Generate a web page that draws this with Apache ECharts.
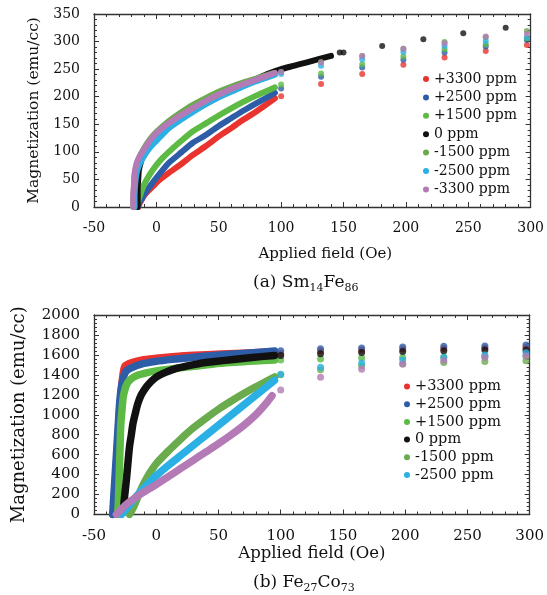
<!DOCTYPE html>
<html><head><meta charset="utf-8">
<script src="https://cdn.jsdelivr.net/npm/echarts@6/dist/echarts.min.js"></script>
<style>html,body{margin:0;padding:0;background:#fff}#c{width:547px;height:595px}</style>
</head><body><div id="c"></div>
<script>
// ---- names & colours
const seriesNames = ['+3300 ppm','+2500 ppm','+1500 ppm','0 ppm','-1500 ppm','-2500 ppm','-3300 ppm'];
const seriesColors = ['#e8332e','#2e5da8','#5cba45','#111111','#6aab4e','#2ab0e4','#b47ab6'];
const xTicks = [-50,0,50,100,150,200,250,300];

// ---- (a) Sm14Fe86 : dense sweep [field, magnetization]
const smP3300 = [[-14.5,0],[-13.5,6],[-12,12],[-10,20],[-7,28],[-3,37],[2,48],[10,62],[20,78],[29,94],[40,111],[50,128],[60,143],[68,156],[78,170],[87,184],[95,197]];
const smP2500 = [[-15,0],[-14,7],[-12,14],[-10,22],[-5,38],[0,53],[5,67],[10,80],[20,99],[29,116],[40,131],[50,147],[60,161],[70,175],[80,188],[88,198],[95,207]];
const smP1500 = [[-16,0],[-15,8],[-13.5,18],[-12,28],[-10,40],[-5,60],[0,76],[5,89],[10,100],[20,120],[29,137],[40,152],[50,166],[60,179],[70,191],[80,202],[88,210],[95,217]];
const sm0 = [[-15,0],[-15,12],[-15,34],[-14.5,52],[-14,67],[-12,85],[-10,97],[-5,113],[0,126],[10,146],[20,161],[30,175],[40,188],[50,200],[60,211],[70,222],[80,232],[90,242],[100,250],[110,256],[120,262],[130,268],[140,274]];
const smM1500 = [[-18.5,0],[-18.5,15],[-18,35],[-17.5,55],[-16,75],[-14,89],[-10,106],[-5,123],[0,136],[10,156],[20,172],[29,185],[40,198],[50,209],[60,218],[70,226],[80,233],[90,240],[95,243]];
const smM2500 = [[-17.5,0],[-17.5,20],[-17,40],[-16,60],[-14,75],[-12,84],[-10,92],[-5,108],[0,120],[10,143],[20,159],[29,172],[40,187],[50,199],[60,209],[70,219],[80,228],[90,236],[95,240]];
const smM3300 = [[-18.5,0],[-18.5,20],[-18,40],[-17.5,60],[-16,78],[-14,89],[-10,104],[-5,121],[0,134],[10,152],[20,167],[29,179],[40,193],[50,204],[60,214],[70,223],[80,231],[90,239],[95,243]];
// sparse points
const smSparseField = [100,132,165,198,231,264,297];
const smSpP3300 = [201,223,241,258,271,283,294];
const smSpP2500 = [215,236,253,267,280,291,303];
const smSpP1500 = [222,242,259,273,286,295,306];
const smSpM1500 = [245,263,274,287,299,308,319];
const smSpM2500 = [241,256,268,281,292,301,308];
const smSpM3300 = [245,262,274,287,297,309,314];
const smSparseField0 = [147,150,181,214,246,280];
const smSp0 = [280,280,292,304,315,325];

// ---- (b) Fe27Co73 : dense sweep
const fcP3300 = [[-34.5,0],[-33.5,150],[-32.5,380],[-31.5,600],[-30.5,820],[-29.5,1020],[-28,1250],[-26.5,1420],[-25,1490],[-20,1522],[-12,1548],[0,1566],[13,1581],[30,1596],[52,1608],[75,1620],[95,1632]];
const fcP2500 = [[-35,0],[-34.5,100],[-33.5,300],[-32.5,500],[-31.5,700],[-30.5,900],[-29.5,1100],[-28,1280],[-26,1390],[-24,1440],[-20,1470],[-12,1508],[0,1535],[13,1555],[30,1577],[52,1598],[75,1618],[95,1638]];
const fcP1500 = [[-31,0],[-30.5,100],[-30,300],[-29.5,500],[-29,700],[-28.5,900],[-27.5,1050],[-26.5,1180],[-25,1260],[-23,1320],[-20,1360],[-15,1395],[-8,1420],[0,1440],[13,1462],[26,1480],[52,1515],[79,1538],[95,1548]];
const fc0 = [[-26,112],[-25,230],[-24,345],[-23,480],[-21.5,678],[-20,800],[-18.7,912],[-16.5,1030],[-14.8,1112],[-12,1200],[-8,1278],[-4,1335],[0,1378],[7,1422],[15.6,1462],[25,1490],[34,1512],[47,1533],[60,1552],[75,1572],[95,1595]];
const fcM1500 = [[-21.5,0],[-18,80],[-14,200],[-10,310],[-5,420],[0,510],[10,640],[20,760],[30,870],[40,965],[50,1055],[60,1135],[70,1210],[80,1280],[90,1345],[95,1378]];
const fcM2500 = [[-28,0],[-25,45],[-20,120],[-15,195],[-10,265],[-5,330],[0,390],[10,495],[20,595],[30,695],[40,795],[50,895],[60,995],[70,1095],[80,1195],[90,1295],[95,1345]];
const fcM3300 = [[-32,0],[-29,40],[-25,90],[-20,140],[-15,185],[-10,225],[-5,262],[0,300],[10,382],[20,464],[30,546],[40,628],[50,710],[60,797],[70,890],[80,1000],[88,1110],[93,1190]];
const fcSparseField = [100,132,165,198,231,264,297];
const fcSpP3300 = [1615,1640,1650,1660,1665,1670,1675];
const fcSpP2500 = [1641,1662,1670,1680,1686,1690,1698];
const fcSpP1500 = [1550,1560,1568,1575,1580,1585,1590];
const fcSp0 = [1595,1612,1625,1633,1641,1648,1650];
const fcSpM1500 = [1400,1450,1490,1510,1525,1535,1541];
const fcSpM2500 = [1405,1475,1520,1550,1575,1598,1621];
const fcSpM3300 = [1247,1375,1455,1510,1545,1575,1588];

const FONT = 'DejaVu Serif';
const zip = (xs, ys) => xs.map((x, i) => [x, ys[i]]);

const chartA = {
  dense: [smP3300, smP2500, smP1500, sm0, smM1500, smM2500, smM3300],
  sparse: [zip(smSparseField, smSpP3300), zip(smSparseField, smSpP2500), zip(smSparseField, smSpP1500),
           zip(smSparseField0, smSp0), zip(smSparseField, smSpM1500), zip(smSparseField, smSpM2500), zip(smSparseField, smSpM3300)]
};
const chartB = {
  dense: [fcP3300, fcP2500, fcP1500, fc0, fcM1500, fcM2500, fcM3300],
  sparse: [zip(fcSparseField, fcSpP3300), zip(fcSparseField, fcSpP2500), zip(fcSparseField, fcSpP1500),
           zip(fcSparseField, fcSp0), zip(fcSparseField, fcSpM1500), zip(fcSparseField, fcSpM2500), zip(fcSparseField, fcSpM3300)]
};

const series = [];
function addChart(ch, xi, yi, lw, dot) {
  seriesNames.forEach((name, i) => {
    series.push({
      type: 'line', name, xAxisIndex: xi, yAxisIndex: yi, data: ch.dense[i],
      smooth: 0.25, showSymbol: false, symbol: 'circle', z: 2 + i,
      lineStyle: { width: lw, color: seriesColors[i], cap: 'round', join: 'round' },
      itemStyle: { color: seriesColors[i] }, emphasis: { disabled: true }, animation: false
    });
    series.push({
      type: 'scatter', name, xAxisIndex: xi, yAxisIndex: yi, data: ch.sparse[i],
      symbol: 'circle', symbolSize: dot, z: 2 + i,
      itemStyle: { color: seriesColors[i] }, emphasis: { disabled: true }, animation: false
    });
  });
}
addChart(chartA, 0, 0, 6, 6);
addChart(chartB, 2, 2, 7.5, 7);

const frameColor = '#333';
const plain = v => String(v);
function xAx(grid, pos, show, fs, name, nameGap, namePad, nameFs) {
  return {
    type: 'value', gridIndex: grid, position: pos, min: -50, max: 300, interval: 50,
    axisLine: { show: true, onZero: false, lineStyle: { color: frameColor, width: 1.3 } },
    axisTick: { show: true, inside: true, length: 5, lineStyle: { color: frameColor } },
    minorTick: { show: true, splitNumber: 5, length: 3, lineStyle: { color: frameColor } },
    splitLine: { show: false },
    axisLabel: { show: show, fontFamily: FONT, fontSize: fs, color: '#111', margin: 14, formatter: plain },
    name: show ? name : '', nameLocation: 'middle', nameGap: nameGap,
    nameTextStyle: { fontFamily: FONT, fontSize: nameFs, color: '#111', padding: namePad }
  };
}
function yAx(grid, pos, show, max, interval, minor, fs, name, nameGap, nameFs) {
  return {
    type: 'value', gridIndex: grid, position: pos, min: 0, max: max, interval: interval,
    axisLine: { show: true, onZero: false, lineStyle: { color: frameColor, width: 1.3 } },
    axisTick: { show: true, inside: true, length: 5, lineStyle: { color: frameColor } },
    minorTick: { show: true, splitNumber: minor, length: 3, lineStyle: { color: frameColor } },
    splitLine: { show: false },
    axisLabel: { show: show, fontFamily: FONT, fontSize: fs, color: '#111', margin: 14, formatter: plain },
    name: show ? name : '', nameLocation: 'middle', nameGap: nameGap, nameRotate: 90,
    nameTextStyle: { fontFamily: FONT, fontSize: nameFs, color: '#111' }
  };
}

const legendBase = {
  orient: 'vertical', icon: 'circle', itemWidth: 6, itemHeight: 6,
  selectedMode: false, inactiveColor: '#fff'
};

const option = {
  animation: false,
  backgroundColor: '#fff',
  grid: [
    { left: 94, right: 12, top: 14, height: 193 },
    { left: 94, right: 12, top: 315, height: 199.5 }
  ],
  xAxis: [
    xAx(0, 'bottom', true, 14, 'Applied field (Oe)', 40, [0, 0, 0, 26], 15),
    xAx(0, 'top', false, 14),
    xAx(1, 'bottom', true, 15, 'Applied field (Oe)', 31, [0, 0, 0, 0], 16.5),
    xAx(1, 'top', false, 15)
  ],
  yAxis: [
    yAx(0, 'left', true, 350, 50, 5, 14, 'Magnetization (emu/cc)', 52, 15.5),
    yAx(0, 'right', false, 350, 50, 5, 14),
    yAx(1, 'left', true, 2000, 200, 5, 15, 'Magnetization (emu/cc)', 66, 18),
    yAx(1, 'right', false, 2000, 200, 5, 15)
  ],
  legend: [
    Object.assign({}, legendBase, {
      left: 418, top: 67, itemGap: 4.4,
      data: seriesNames.slice(),
      textStyle: { fontFamily: FONT, fontSize: 14, color: '#111', lineHeight: 14 }
    }),
    Object.assign({}, legendBase, {
      left: 399, top: 374, itemGap: 2.7,
      data: seriesNames.slice(0, 6),
      textStyle: { fontFamily: FONT, fontSize: 14.5, color: '#111', lineHeight: 14.5 }
    })
  ],
  graphic: [
    {
      type: 'text', left: 253, top: 274,
      style: {
        text: '{m|(a) Sm}{s|14}{m|Fe}{s|86}', fill: '#111',
        rich: {
          m: { fontFamily: FONT, fontSize: 17, verticalAlign: 'top', lineHeight: 20 },
          s: { fontFamily: FONT, fontSize: 11, verticalAlign: 'bottom', lineHeight: 14, padding: [9, 0, 0, 0] }
        }
      }
    },
    {
      type: 'text', left: 253, top: 574,
      style: {
        text: '{m|(b) Fe}{s|27}{m|Co}{s|73}', fill: '#111',
        rich: {
          m: { fontFamily: FONT, fontSize: 17, verticalAlign: 'top', lineHeight: 20 },
          s: { fontFamily: FONT, fontSize: 11, verticalAlign: 'bottom', lineHeight: 14, padding: [9, 0, 0, 0] }
        }
      }
    }
  ],
  series: series
};

const chart = echarts.init(document.getElementById('c'), null, { renderer: 'canvas' });
chart.setOption(option);
</script>
</body></html>
